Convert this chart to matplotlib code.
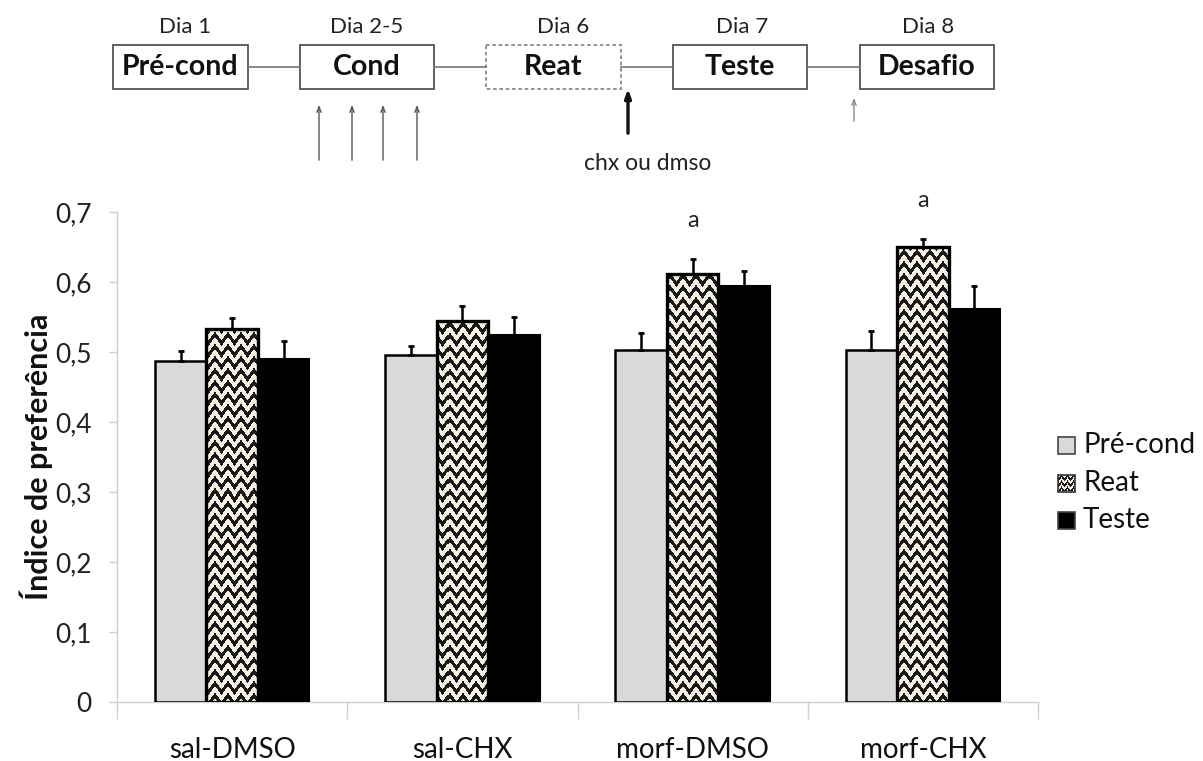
import numpy as np
import matplotlib
matplotlib.use('Agg')
import matplotlib.pyplot as plt
from matplotlib.patches import Rectangle

plt.rcParams['font.family'] = ['Lato', 'DejaVu Sans']

# data
groups = ['sal-DMSO', 'sal-CHX', 'morf-DMSO', 'morf-CHX']
pre_cond = [0.487, 0.496, 0.503, 0.503]
pre_cond_err = [0.014, 0.013, 0.024, 0.027]
reat = [0.533, 0.544, 0.611, 0.650]
reat_err = [0.016, 0.022, 0.022, 0.011]
teste = [0.490, 0.524, 0.594, 0.561]
teste_err = [0.026, 0.026, 0.022, 0.033]
signif = ['', '', 'a', 'a']

series_names = ['Pré-cond', 'Reat', 'Teste']
y_ticks = [0, 0.1, 0.2, 0.3, 0.4, 0.5, 0.6, 0.7]
y_ticklabels = ['0', '0,1', '0,2', '0,3', '0,4', '0,5', '0,6', '0,7']

# timeline at the top
days = ['Dia 1', 'Dia 2-5', 'Dia 6', 'Dia 7', 'Dia 8']
stages = ['Pré-cond', 'Cond', 'Reat', 'Teste', 'Desafio']

W, H = 1203, 761
CREAM = '#f4f0e3'
INK = '#1a1a1a'


def chevron(h, w, px=13, py=12, amp=9, frac=0.45):
    # zig-zag texture used for the Reat bars
    i, j = np.mgrid[0:h, 0:w]
    tri = np.abs((j % px) - px / 2) / (px / 2)
    v = (i - tri * amp) % py
    dark = v < py * frac
    img = np.empty((h, w, 3))
    img[:] = matplotlib.colors.to_rgb(CREAM)
    img[dark] = matplotlib.colors.to_rgb(INK)
    return img


fig = plt.figure(figsize=(W / 100, H / 100), dpi=100)
ax_l, ax_r, ax_b, ax_t = 117, 1038, 702, 212
ax = fig.add_axes([ax_l / W, 1 - ax_b / H, (ax_r - ax_l) / W, (ax_b - ax_t) / H])

x = np.arange(len(groups))
bw = 0.224
ax.set_xlim(-0.5, len(groups) - 0.5)
ax.set_ylim(0, 0.7)

b1 = ax.bar(x - bw, pre_cond, bw, color='#d9d9d9', edgecolor='black', lw=1.8, zorder=3)
b2 = ax.bar(x, reat, bw, facecolor='none', edgecolor='black', lw=2.4, zorder=3)
b3 = ax.bar(x + bw, teste, bw, color='black', edgecolor='black', lw=1.5, zorder=3)

tex = chevron(ax_b - ax_t, ax_r - ax_l)
for bar in b2:
    im = ax.imshow(tex, extent=(-0.5, len(groups) - 0.5, 0, 0.7), aspect='auto',
                   interpolation='nearest', zorder=2)
    im.set_clip_path(bar)

for off, vals, errs in [(-bw, pre_cond, pre_cond_err), (0, reat, reat_err), (bw, teste, teste_err)]:
    ax.errorbar(x + off, vals, yerr=[np.zeros(len(errs)), errs], fmt='none',
                ecolor='black', elinewidth=1.8, capsize=2, capthick=2, zorder=4)

for xi, v, e, s in zip(x, reat, reat_err, signif):
    if s:
        ax.text(xi, v + e + 0.055, s, ha='center', va='center', fontsize=17,
                color='#222222', clip_on=False)

ax.set_yticks(y_ticks)
ax.set_yticklabels(y_ticklabels, fontsize=19, color='#222222')
ax.set_xticks(x)
ax.set_xticklabels(groups, fontsize=20, color='#111111')
ax.set_xticks(np.arange(len(groups) + 1) - 0.5, minor=True)
ax.tick_params(axis='y', length=6, width=1, color='#d0d0d0', pad=12)
ax.tick_params(axis='x', which='major', length=0, pad=25)
ax.tick_params(axis='x', which='minor', length=12, width=1, color='#d0d0d0')
for sp in ['top', 'right']:
    ax.spines[sp].set_visible(False)
for sp in ['left', 'bottom']:
    ax.spines[sp].set_color('#d0d0d0')
    ax.spines[sp].set_linewidth(1)
ax.set_ylabel('Índice de preferência', fontsize=22, fontweight='bold', color='#111111')
ax.yaxis.set_label_coords(-0.069, 0.5)

# overlay in pixel coordinates for the timeline and legend
ov = fig.add_axes([0, 0, 1, 1], zorder=5)
ov.set_xlim(0, W)
ov.set_ylim(H, 0)
ov.axis('off')
ov.patch.set_visible(False)

box_x = [(113, 248), (300, 434), (486, 621), (673, 807), (860, 994)]
box_y = (45, 89)
day_x = [185, 367, 563, 742, 928]
for k, ((x0, x1), day, st) in enumerate(zip(box_x, days, stages)):
    ls = (0, (2, 1.5)) if st == 'Reat' else '-'
    ec = '#8a8a8a' if st == 'Reat' else '#555555'
    ov.add_patch(Rectangle((x0, box_y[0]), x1 - x0, box_y[1] - box_y[0], fill=False,
                           ec=ec, lw=1.3, ls=ls))
    ov.text((x0 + x1) / 2, 67, st, ha='center', va='center', fontsize=20.5,
            fontweight='bold', color='#111111')
    ov.text(day_x[k], 27, day, ha='center', va='center', fontsize=16, color='#222222')
    if k < len(box_x) - 1:
        ov.plot([x1, box_x[k + 1][0]], [67, 67], color='#777777', lw=1.2)

thin = dict(arrowstyle='->,head_width=0.15,head_length=0.4', color='#555555', lw=1)
for xa in [319, 352, 383, 417]:
    ov.annotate('', xy=(xa, 102), xytext=(xa, 163), arrowprops=thin)
ov.annotate('', xy=(854, 95), xytext=(854, 124),
            arrowprops=dict(arrowstyle='->,head_width=0.15,head_length=0.4', color='#888888', lw=1))
ov.annotate('', xy=(628, 86), xytext=(628, 136),
            arrowprops=dict(arrowstyle='-|>,head_width=0.18,head_length=0.5', color='#111111', lw=2.4))
ov.text(648, 163, 'chx ou dmso', ha='center', va='center', fontsize=16.5, color='#222222')

# legend
leg_y = [445, 483, 520]
sw = 17
for k, name in enumerate(series_names):
    y0 = leg_y[k] - sw / 2
    if k == 1:
        img = chevron(sw, sw, px=6, py=6, amp=4)
        im = ov.imshow(img, extent=(1058, 1058 + sw, y0 + sw, y0), interpolation='nearest', zorder=2)
        r = Rectangle((1058, y0), sw, sw, fill=False, ec='#333333', lw=1.2, zorder=3)
        ov.add_patch(r)
        im.set_clip_path(r)
    else:
        fc = '#d9d9d9' if k == 0 else 'black'
        ov.add_patch(Rectangle((1058, y0), sw, sw, fc=fc, ec='#444444', lw=1.2))
    ov.text(1083, leg_y[k], name, ha='left', va='center', fontsize=20, color='#111111')
ov.set_xlim(0, W)
ov.set_ylim(H, 0)

fig.savefig('out.png', dpi=100)
